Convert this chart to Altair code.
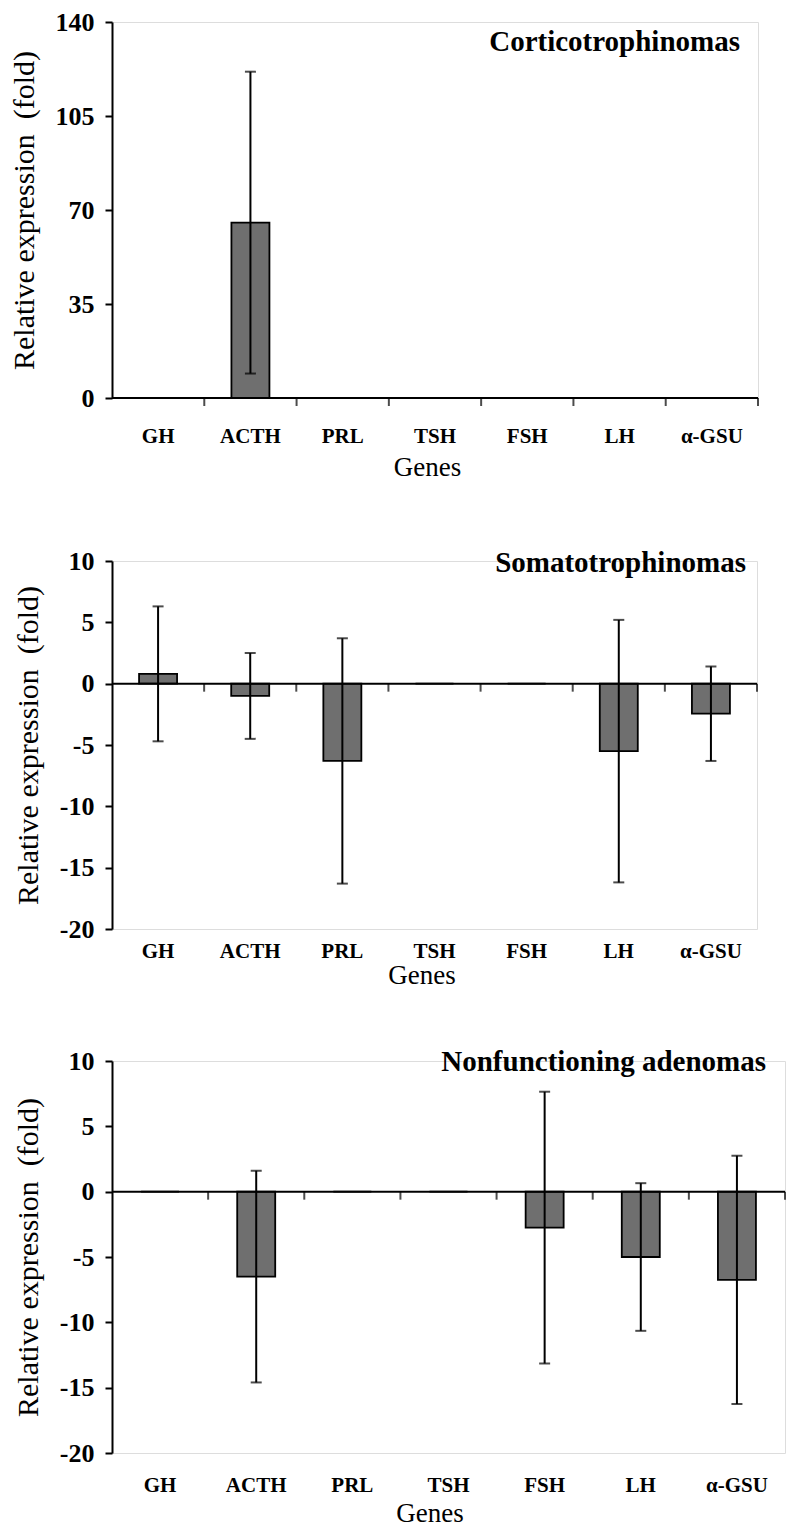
import altair as alt
import pandas as pd

genes = ["GH", "ACTH", "PRL", "TSH", "FSH", "LH", "α-GSU"]

cortico_mean = [0, 65.3, 0, 0, 0, 0, 0]
cortico_err = [0, 56.2, 0, 0, 0, 0, 0]

somato_mean = [0.8, -1.0, -6.3, 0, 0, -5.5, -2.45]
somato_err = [5.5, 3.5, 10.0, 0, 0, 10.7, 3.85]

nonfunc_mean = [0, -6.5, 0, 0, -2.75, -5.0, -6.75]
nonfunc_err = [0, 8.1, 0, 0, 10.4, 5.65, 9.5]

cortico_ticks = [0, 35, 70, 105, 140]
signed_ticks = [-20, -15, -10, -5, 0, 5, 10]

SERIF = "Liberation Serif"
BAR_COLOR = "#6f6f6f"


def panel(means, errs, title, ydomain, yticks, W, H, lab_pad, title_pad, title_shift, tx, ty):
    df = pd.DataFrame({"gene": genes, "mean": means, "err": errs})
    df["lo"] = df["mean"] - df["err"]
    df["hi"] = df["mean"] + df["err"]
    err_df = df[df["err"] > 0]

    xscale = alt.Scale(domain=genes, paddingInner=0, paddingOuter=0)
    yscale = alt.Scale(domain=ydomain, nice=False, zero=False)

    xaxis = alt.Axis(
        domain=False, ticks=False, tickSize=0, labelAngle=0,
        labelFont=SERIF, labelFontWeight="bold", labelFontSize=21,
        labelColor="black", labelPadding=lab_pad,
        title="Genes", titleFont=SERIF, titleFontWeight="normal",
        titleFontSize=27, titleColor="black", titlePadding=title_pad,
        titleX=W / 2 - title_shift,
    )
    yaxis = alt.Axis(
        values=yticks, grid=False, domainColor="black", domainWidth=2,
        tickColor="black", tickWidth=2, tickSize=7,
        labelFont=SERIF, labelFontWeight="bold", labelFontSize=26,
        labelColor="black", labelPadding=11,
        labelExpr="'' + datum.value",
        title="Relative expression \u00a0(fold)", titleFont=SERIF,
        titleFontWeight="normal", titleFontSize=30, titleColor="black",
        titlePadding=16,
    )

    base = alt.Chart(df)
    bars = base.mark_bar(size=38, color=BAR_COLOR, stroke="black", strokeWidth=1.8).encode(
        x=alt.X("gene:N", sort=genes, scale=xscale, axis=xaxis),
        y=alt.Y("mean:Q", scale=yscale, axis=yaxis),
    )
    zero = alt.Chart(pd.DataFrame({"z": [0]})).mark_rule(color="black", strokeWidth=2).encode(
        y=alt.Y("z:Q", scale=yscale)
    )
    bounds = base.mark_tick(orient="vertical", size=8, thickness=2, color="black", yOffset=4).encode(
        x=alt.X("gene:N", sort=genes, scale=xscale, bandPosition=1),
        y=alt.datum(0),
    )
    ebase = alt.Chart(err_df)
    erule = ebase.mark_rule(color="black", strokeWidth=2).encode(
        x=alt.X("gene:N", sort=genes, scale=xscale),
        y=alt.Y("lo:Q", scale=yscale),
        y2="hi:Q",
    )
    ecap_hi = ebase.mark_tick(orient="horizontal", size=11, thickness=2, color="black").encode(
        x=alt.X("gene:N", sort=genes, scale=xscale),
        y=alt.Y("hi:Q", scale=yscale),
    )
    ecap_lo = ebase.mark_tick(orient="horizontal", size=11, thickness=2, color="black").encode(
        x=alt.X("gene:N", sort=genes, scale=xscale),
        y=alt.Y("lo:Q", scale=yscale),
    )
    ttl = alt.Chart(pd.DataFrame({"t": [title]})).mark_text(
        font=SERIF, fontWeight="bold", fontSize=29, align="right", baseline="middle", color="black"
    ).encode(text="t:N", x=alt.value(tx), y=alt.value(ty))

    return alt.layer(bars, zero, bounds, erule, ecap_hi, ecap_lo, ttl).properties(width=W, height=H)


p1 = panel(cortico_mean, cortico_err, "Corticotrophinomas", [0, 140], cortico_ticks,
           646, 376, 27, 8, 8, 628, 20)
p2 = panel(somato_mean, somato_err, "Somatotrophinomas", [-20, 10], signed_ticks,
           645, 368, 11, 1, 13, 634, 2)
p3 = panel(nonfunc_mean, nonfunc_err, "Nonfunctioning adenomas", [-20, 10], signed_ticks,
           673, 392, 21, 5, 19, 654, 1)

lower = alt.vconcat(p2, p3, spacing=58)
chart = alt.vconcat(p1, lower, spacing=66).properties(
    padding={"top": 0, "left": 0, "right": 0, "bottom": 0}
).configure_view(stroke=None).configure(background="white")

chart.save("out.html", embed_options={"renderer": "svg", "actions": False})
